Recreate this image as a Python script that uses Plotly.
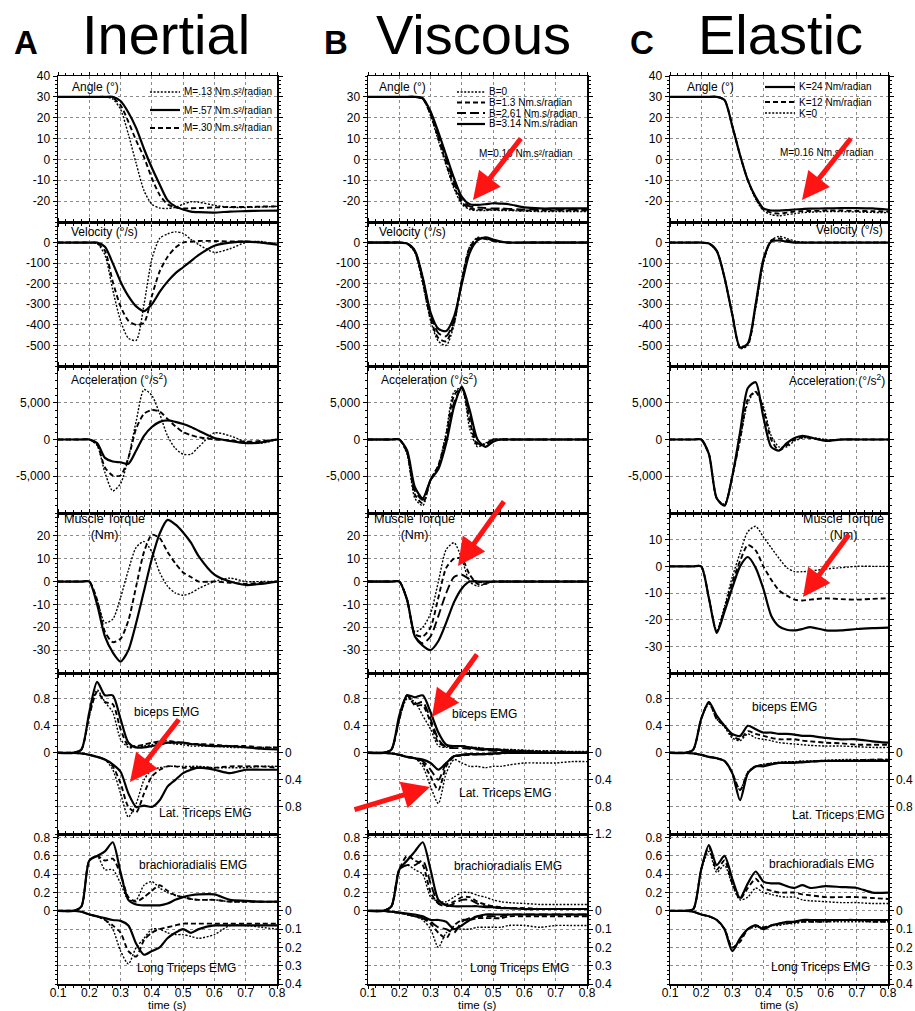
import plotly.graph_objects as go

W, H = 915, 1011
FONT = "Liberation Sans, Arial, Helvetica, sans-serif"

# common time grid (s)
T = [0.10, 0.15, 0.175, 0.20, 0.225, 0.25, 0.275, 0.30, 0.325, 0.35, 0.375, 0.40,
     0.425, 0.45, 0.475, 0.50, 0.525, 0.55, 0.60, 0.65, 0.70, 0.75, 0.80]

# ---------------- A : Inertial ----------------
a_angle_m13 = [30, 30, 30, 30, 30, 30, 29, 24, 12, -2, -15, -21.5, -23.3, -23.5, -23, -21.5, -20.3, -20.5, -22, -23, -23, -22.8, -22.5]
a_angle_m57 = [30, 30, 30, 30, 30, 30, 30, 28, 22.5, 15, 5, -4, -12, -19.5, -22.5, -24, -25, -25.3, -25.5, -25, -24.8, -24.6, -24.5]
a_angle_m30 = [30, 30, 30, 30, 30, 30, 29.5, 26, 18, 9, 1, -9, -17, -21.5, -23, -23.5, -23.4, -23.3, -23, -22.8, -22.8, -22.6, -22.5]

a_vel_m13 = [0, 0, 0, 0, -5, -60, -230, -380, -465, -475, -300, -80, 20, 42, 52, 45, 15, -10, -48, -30, 0, 5, -10]
a_vel_m57 = [0, 0, 0, 0, 0, -20, -100, -190, -260, -310, -333, -300, -240, -190, -150, -120, -90, -60, -15, 0, 5, 0, -10]
a_vel_m30 = [0, 0, 0, 0, -3, -40, -190, -310, -380, -400, -390, -260, -140, -70, -25, 0, 5, 8, 8, 5, 5, 0, -5]

a_acc_m13 = [0, 0, 0, 0, -800, -4500, -7000, -6000, -2500, 2500, 6800, 6000, 3500, 500, -1200, -2000, -2000, -1000, 900, 500, -300, -500, 0]
a_acc_m57 = [0, 0, 0, 0, -500, -2500, -3000, -3100, -3300, -1500, 500, 1700, 2400, 2600, 2400, 2100, 1700, 1200, 200, -200, -500, -400, 0]
a_acc_m30 = [0, 0, 0, 0, -700, -3800, -4900, -4900, -2500, 1500, 3500, 4000, 3800, 2800, 1800, 1000, 600, 300, 0, -100, -300, -200, 0]

a_trq_m13 = [0, 0, 0, 0, -8, -18, -16.5, -7, 5, 15, 17.5, 13, 4, -2, -5, -6, -5, -3, 0, 1.5, 0, 0, 0]
a_trq_m57 = [0, 0, 0, 0, -10, -24, -31, -35, -30, -18, -4, 10, 21, 27, 25, 21.5, 17, 11, 3, 0, -1.5, -1, 0]
a_trq_m30 = [0, 0, 0, 0, -8, -22, -26.5, -25, -17, -2, 13, 20.5, 19, 13, 8, 4, 2, 0, 0, -0.5, -1, -0.5, 0]

a_bic_m13 = [0, 0, 0.05, 0.55, 0.93, 0.75, 0.6, 0.2, 0.08, 0.08, 0.1, 0.12, 0.15, 0.15, 0.13, 0.12, 0.1, 0.1, 0.1, 0.08, 0.08, 0.08, 0.08]
a_bic_m57 = [0, 0, 0.05, 0.6, 1.05, 0.85, 0.85, 0.5, 0.15, 0.08, 0.08, 0.1, 0.12, 0.15, 0.15, 0.15, 0.13, 0.12, 0.1, 0.1, 0.08, 0.06, 0.05]
a_bic_m30 = [0, 0, 0.05, 0.55, 0.9, 0.75, 0.72, 0.35, 0.1, 0.1, 0.12, 0.15, 0.17, 0.18, 0.16, 0.15, 0.13, 0.13, 0.12, 0.1, 0.1, 0.08, 0.08]

a_lat_m13 = [0, 0, 0.01, 0.03, 0.06, 0.1, 0.25, 0.6, 0.95, 0.75, 0.4, 0.25, 0.22, 0.2, 0.2, 0.2, 0.2, 0.2, 0.22, 0.22, 0.22, 0.2, 0.2]
a_lat_m57 = [0, 0, 0.01, 0.03, 0.06, 0.1, 0.17, 0.28, 0.6, 0.8, 0.78, 0.8, 0.7, 0.5, 0.4, 0.3, 0.25, 0.22, 0.25, 0.3, 0.25, 0.25, 0.25]
a_lat_m30 = [0, 0, 0.01, 0.03, 0.06, 0.1, 0.2, 0.45, 0.8, 0.88, 0.6, 0.35, 0.25, 0.2, 0.2, 0.22, 0.22, 0.22, 0.22, 0.2, 0.2, 0.2, 0.22]

a_bra_m13 = [0, 0, 0.05, 0.55, 0.6, 0.45, 0.45, 0.3, 0.12, 0.12, 0.28, 0.32, 0.25, 0.2, 0.17, 0.15, 0.13, 0.12, 0.12, 0.1, 0.1, 0.1, 0.1]
a_bra_m57 = [0, 0, 0.05, 0.55, 0.6, 0.65, 0.75, 0.42, 0.12, 0.07, 0.06, 0.06, 0.06, 0.08, 0.12, 0.15, 0.17, 0.18, 0.18, 0.12, 0.11, 0.1, 0.1]
a_bra_m30 = [0, 0, 0.05, 0.55, 0.6, 0.55, 0.57, 0.4, 0.15, 0.1, 0.15, 0.22, 0.28, 0.22, 0.17, 0.15, 0.13, 0.12, 0.12, 0.1, 0.1, 0.1, 0.1]

a_ltr_m13 = [0, 0, 0.005, 0.02, 0.03, 0.05, 0.1, 0.22, 0.29, 0.2, 0.15, 0.1, 0.1, 0.12, 0.13, 0.13, 0.14, 0.15, 0.13, 0.08, 0.08, 0.09, 0.1]
a_ltr_m57 = [0, 0, 0.005, 0.02, 0.03, 0.04, 0.05, 0.055, 0.08, 0.18, 0.24, 0.22, 0.2, 0.15, 0.12, 0.1, 0.12, 0.1, 0.08, 0.08, 0.08, 0.08, 0.08]
a_ltr_m30 = [0, 0, 0.005, 0.02, 0.03, 0.05, 0.08, 0.12, 0.22, 0.25, 0.16, 0.12, 0.1, 0.09, 0.08, 0.07, 0.07, 0.07, 0.07, 0.07, 0.07, 0.07, 0.07]

# ---------------- B : Viscous ----------------
b_angle_b0 = [30, 30, 30, 30, 30, 30, 29, 21, 9, -3, -14, -21.5, -24, -24.5, -24.5, -24.3, -24.5, -24.5, -24.8, -25, -25, -25, -25]
b_angle_b13 = [30, 30, 30, 30, 30, 30, 29, 21.5, 10, -2, -13, -20.5, -23.5, -24, -24, -24, -24, -24.2, -24.5, -24.5, -24.5, -24.5, -24.5]
b_angle_b261 = [30, 30, 30, 30, 30, 30, 29.2, 22.5, 11.5, 0, -11, -19.5, -22.5, -23, -23.3, -23.5, -23.5, -23.7, -24, -24, -24, -24, -24]
b_angle_b314 = [30, 30, 30, 30, 30, 30, 29.4, 23, 13, 2, -9, -18, -21.5, -21.8, -21.5, -21, -21.2, -21.5, -23, -23.5, -23.5, -23.5, -23.5]

b_vel_b0 = [0, 0, 0, 0, -5, -50, -200, -380, -480, -500, -400, -180, -20, 25, 20, 8, 2, 0, 0, 0, 0, 0, 0]
b_vel_b13 = [0, 0, 0, 0, -5, -45, -190, -370, -465, -480, -390, -180, -25, 20, 18, 8, 2, 0, 0, 0, 0, 0, 0]
b_vel_b261 = [0, 0, 0, 0, -5, -40, -175, -350, -440, -455, -380, -190, -40, 15, 20, 10, 3, 0, 0, 0, 0, 0, 0]
b_vel_b314 = [0, 0, 0, 0, -5, -40, -170, -340, -420, -430, -360, -200, -50, 10, 25, 15, 5, 0, 0, 0, 0, 0, 0]

b_acc_b0 = [0, 0, 0, 0, -2000, -8000, -9000, -5500, -3500, 1000, 6500, 7000, 1500, -1000, -500, 0, 0, 0, 0, 0, 0, 0, 0]
b_acc_b13 = [0, 0, 0, 0, -1800, -7500, -8700, -5500, -3500, 500, 6000, 7000, 2500, -800, -600, 0, 0, 0, 0, 0, 0, 0, 0]
b_acc_b261 = [0, 0, 0, 0, -1700, -7000, -8200, -5500, -3800, 0, 5000, 7000, 3500, -500, -800, 0, 0, 0, 0, 0, 0, 0, 0]
b_acc_b314 = [0, 0, 0, 0, -1500, -6500, -8000, -5500, -4000, -500, 4500, 7200, 4000, 0, -1000, -300, 0, 0, 0, 0, 0, 0, 0]

b_trq_b0 = [0, 0, 0, 0, -8, -22, -20, -14, 0, 14, 17, 10, 0, -2, -1, 0, 0, 0, 0, 0, 0, 0, 0]
b_trq_b13 = [0, 0, 0, 0, -8, -23, -24, -20, -7, 6, 10, 10, 3, -1, -1, 0, 0, 0, 0, 0, 0, 0, 0]
b_trq_b261 = [0, 0, 0, 0, -8, -24, -27, -24, -15, -5, 2, 3, 1, 0, -0.5, 0, 0, 0, 0, 0, 0, 0, 0]
b_trq_b314 = [0, 0, 0, 0, -8, -24, -28, -30, -26, -18, -9, -3, 0, 0, 0, 0, 0, 0, 0, 0, 0, 0, 0]

b_bic_b0 = [0, 0, 0.05, 0.5, 0.8, 0.75, 0.55, 0.35, 0.1, 0.08, 0.1, 0.1, 0.08, 0.08, 0.06, 0.06, 0.05, 0.05, 0.04, 0.03, 0.03, 0.02, 0.02]
b_bic_b13 = [0, 0, 0.05, 0.5, 0.85, 0.7, 0.7, 0.45, 0.15, 0.1, 0.1, 0.1, 0.08, 0.07, 0.06, 0.05, 0.05, 0.04, 0.03, 0.02, 0.02, 0.01, 0]
b_bic_b261 = [0, 0, 0.05, 0.5, 0.85, 0.72, 0.75, 0.5, 0.2, 0.08, 0.07, 0.07, 0.06, 0.05, 0.04, 0.03, 0.03, 0.02, 0.01, 0, 0, 0, 0]
b_bic_b314 = [0, 0, 0.05, 0.55, 0.85, 0.82, 0.85, 0.6, 0.3, 0.12, 0.1, 0.1, 0.08, 0.06, 0.05, 0.05, 0.04, 0.03, 0.02, 0.01, 0, 0, 0]

b_lat_b0 = [0, 0, 0.01, 0.03, 0.06, 0.08, 0.2, 0.5, 0.75, 0.3, 0.1, 0.15, 0.2, 0.2, 0.22, 0.2, 0.2, 0.18, 0.15, 0.15, 0.15, 0.13, 0.13]
b_lat_b13 = [0, 0, 0.01, 0.03, 0.06, 0.08, 0.15, 0.35, 0.55, 0.2, 0.06, 0.04, 0.03, 0.02, 0.02, 0.02, 0.01, 0, 0, 0, 0, 0, 0]
b_lat_b261 = [0, 0, 0.01, 0.03, 0.06, 0.08, 0.12, 0.25, 0.4, 0.15, 0.05, 0.03, 0.02, 0.02, 0.02, 0.01, 0, 0, 0, 0, 0, 0, 0]
b_lat_b314 = [0, 0, 0.01, 0.03, 0.06, 0.08, 0.1, 0.15, 0.25, 0.15, 0.05, 0.03, 0.02, 0.02, 0.02, 0.01, 0, 0, 0, 0, 0, 0, 0]

b_bra_b0 = [0, 0, 0.05, 0.45, 0.5, 0.45, 0.4, 0.15, 0.1, 0.1, 0.15, 0.2, 0.2, 0.17, 0.15, 0.12, 0.1, 0.09, 0.08, 0.07, 0.07, 0.07, 0.07]
b_bra_b13 = [0, 0, 0.05, 0.45, 0.6, 0.55, 0.5, 0.2, 0.08, 0.07, 0.1, 0.15, 0.15, 0.1, 0.07, 0.05, 0.04, 0.03, 0.03, 0.02, 0.02, 0.02, 0.02]
b_bra_b261 = [0, 0, 0.05, 0.45, 0.5, 0.5, 0.55, 0.3, 0.08, 0.05, 0.08, 0.12, 0.12, 0.08, 0.05, 0.04, 0.03, 0.03, 0.02, 0.02, 0.02, 0.02, 0.02]
b_bra_b314 = [0, 0, 0.05, 0.45, 0.55, 0.65, 0.75, 0.45, 0.12, 0.06, 0.05, 0.05, 0.05, 0.05, 0.04, 0.04, 0.03, 0.03, 0.02, 0.02, 0.02, 0.02, 0.02]

b_ltr_b0 = [0, 0, 0.005, 0.01, 0.02, 0.03, 0.05, 0.1, 0.2, 0.12, 0.1, 0.1, 0.1, 0.09, 0.09, 0.09, 0.09, 0.08, 0.08, 0.09, 0.08, 0.08, 0.08]
b_ltr_b13 = [0, 0, 0.005, 0.01, 0.02, 0.03, 0.04, 0.07, 0.12, 0.15, 0.08, 0.05, 0.05, 0.04, 0.04, 0.04, 0.04, 0.03, 0.03, 0.03, 0.03, 0.03, 0.03]
b_ltr_b261 = [0, 0, 0.005, 0.01, 0.02, 0.03, 0.04, 0.06, 0.09, 0.1, 0.12, 0.06, 0.04, 0.03, 0.03, 0.03, 0.03, 0.02, 0.02, 0.02, 0.02, 0.02, 0.02]
b_ltr_b314 = [0, 0, 0.005, 0.01, 0.015, 0.02, 0.03, 0.05, 0.05, 0.06, 0.1, 0.08, 0.05, 0.03, 0.02, 0.02, 0.02, 0.02, 0.02, 0.02, 0.02, 0.02, 0.02]

# ---------------- C : Elastic ----------------
c_angle_k24 = [30, 30, 30, 30, 30, 30, 28.5, 16, 2, -10, -18, -23.5, -24.5, -24.5, -24.3, -24, -23.8, -23.6, -23.5, -23.3, -23.3, -23.5, -24]
c_angle_k12 = [30, 30, 30, 30, 30, 30, 28.5, 16, 2, -10, -18.5, -24, -25.5, -26, -25.5, -25, -24.8, -24.7, -24.5, -24.5, -24.7, -24.8, -25]
c_angle_k0 = [30, 30, 30, 30, 30, 30, 28.5, 16, 2, -10, -19, -24.5, -26.5, -27, -26.5, -26, -25.5, -25.3, -25, -25, -25.2, -25.4, -25.5]

c_vel_k24 = [0, 0, 0, 0, -5, -40, -170, -350, -510, -490, -300, -80, 5, 10, 5, 0, 0, 0, 0, 0, 0, 0, 0]
c_vel_k12 = [0, 0, 0, 0, -5, -40, -170, -350, -510, -495, -310, -90, 10, 20, 12, 3, 0, 0, 0, 0, 0, 0, 0]
c_vel_k0 = [0, 0, 0, 0, -5, -40, -170, -350, -515, -500, -320, -100, 10, 30, 20, 8, 2, 0, 0, 0, 0, 0, 0]

c_acc_k24 = [0, 0, 0, 0, -2000, -8000, -9000, -5000, 1000, 7000, 7800, 3000, -1000, -1500, -500, 200, 500, 300, -200, 0, 0, 0, 0]
c_acc_k12 = [0, 0, 0, 0, -2000, -8000, -9000, -5000, 0, 5500, 6500, 4000, 0, -1500, -800, 0, 300, 200, -100, 0, 0, 0, 0]
c_acc_k0 = [0, 0, 0, 0, -2000, -8000, -8800, -5000, 0, 5000, 6500, 4500, 500, -1000, -1000, -200, 200, 300, 0, 0, 0, 0, 0]

c_trq_k24 = [0, 0, 0, 0, -12, -25, -17, -8, 0, 3.5, -0.5, -8.5, -18.5, -22.5, -23.8, -24, -23.5, -22.8, -24, -24, -23.5, -23.2, -23]
c_trq_k12 = [0, 0, 0, 0, -12, -24.5, -16, -6, 2, 8, 6, 0, -5, -9, -11, -12.5, -12.8, -12.5, -12, -12.3, -12.5, -12.2, -12]
c_trq_k0 = [0, 0, 0, 0, -12, -24, -15, -4, 5, 13, 15, 11, 7, 3, -0.5, -2, -2, -1.8, -1, -0.5, 0, 0, 0]

c_bic_k24 = [0, 0, 0.05, 0.5, 0.75, 0.55, 0.4, 0.28, 0.25, 0.4, 0.35, 0.3, 0.3, 0.28, 0.28, 0.27, 0.25, 0.25, 0.22, 0.2, 0.2, 0.17, 0.15]
c_bic_k12 = [0, 0, 0.05, 0.5, 0.75, 0.5, 0.4, 0.25, 0.2, 0.32, 0.28, 0.25, 0.22, 0.2, 0.2, 0.2, 0.18, 0.17, 0.15, 0.14, 0.12, 0.12, 0.12]
c_bic_k0 = [0, 0, 0.05, 0.5, 0.72, 0.5, 0.38, 0.22, 0.18, 0.28, 0.22, 0.2, 0.18, 0.15, 0.14, 0.13, 0.12, 0.11, 0.1, 0.1, 0.09, 0.08, 0.08]

c_lat_k24 = [0, 0, 0.01, 0.03, 0.06, 0.08, 0.12, 0.3, 0.7, 0.3, 0.2, 0.2, 0.17, 0.15, 0.15, 0.15, 0.14, 0.13, 0.12, 0.12, 0.12, 0.12, 0.12]
c_lat_k12 = [0, 0, 0.01, 0.03, 0.06, 0.08, 0.12, 0.3, 0.55, 0.3, 0.2, 0.18, 0.16, 0.15, 0.14, 0.14, 0.13, 0.13, 0.12, 0.12, 0.11, 0.1, 0.1]
c_lat_k0 = [0, 0, 0.01, 0.03, 0.06, 0.08, 0.12, 0.3, 0.55, 0.28, 0.2, 0.17, 0.15, 0.14, 0.13, 0.13, 0.12, 0.12, 0.11, 0.1, 0.1, 0.1, 0.1]

c_bra_k24 = [0, 0, 0.02, 0.45, 0.72, 0.5, 0.6, 0.35, 0.14, 0.3, 0.43, 0.32, 0.3, 0.3, 0.27, 0.25, 0.28, 0.25, 0.27, 0.26, 0.25, 0.2, 0.2]
c_bra_k12 = [0, 0, 0.02, 0.45, 0.7, 0.45, 0.55, 0.3, 0.13, 0.25, 0.35, 0.25, 0.22, 0.2, 0.2, 0.2, 0.18, 0.17, 0.15, 0.15, 0.15, 0.14, 0.13]
c_bra_k0 = [0, 0, 0.02, 0.45, 0.65, 0.42, 0.5, 0.28, 0.12, 0.15, 0.25, 0.2, 0.18, 0.16, 0.15, 0.15, 0.12, 0.11, 0.1, 0.09, 0.09, 0.08, 0.08]

c_ltr_k24 = [0, 0, 0.005, 0.02, 0.03, 0.05, 0.1, 0.22, 0.15, 0.1, 0.08, 0.1, 0.08, 0.07, 0.06, 0.06, 0.05, 0.05, 0.05, 0.05, 0.05, 0.05, 0.05]
c_ltr_k12 = [0, 0, 0.005, 0.02, 0.03, 0.05, 0.1, 0.2, 0.17, 0.1, 0.08, 0.09, 0.08, 0.07, 0.07, 0.06, 0.06, 0.06, 0.06, 0.05, 0.05, 0.06, 0.06]
c_ltr_k0 = [0, 0, 0.005, 0.02, 0.03, 0.05, 0.1, 0.2, 0.16, 0.1, 0.09, 0.09, 0.08, 0.08, 0.07, 0.07, 0.06, 0.06, 0.06, 0.06, 0.06, 0.06, 0.06]

# ---------------- tick labels ----------------
X_TICKS = [0.1, 0.2, 0.3, 0.4, 0.5, 0.6, 0.7, 0.8]
ANGLE_TICKS = [-20, -10, 0, 10, 20, 30, 40]
ANGLE_TICKS_B = [-20, -10, 0, 10, 20, 30]
VEL_TICKS = [-500, -400, -300, -200, -100, 0]
ACC_TICKS = [-5000, 0, 5000]
ACC_LABELS = ["-5,000", "0", "5,000"]
TRQ_TICKS = [-30, -20, -10, 0, 10, 20]
TRQ_TICKS_C = [-30, -20, -10, 0, 10]
EMG1_TICKS = [0, 0.4, 0.8]
EMG1_RIGHT_TICKS = [0, 0.4, 0.8]
EMG1_RIGHT_TICKS_B = [0, 0.4, 0.8, 1.2]
EMG2_TICKS = [0, 0.2, 0.4, 0.6, 0.8]
EMG2_RIGHT_TICKS = [0, 0.1, 0.2, 0.3, 0.4]

# ---------------- layout geometry (pixels) ----------------
COL_X = [(58, 277), (368, 587), (670, 888)]
ROW_Y = [(76, 222), (222, 366), (366, 513), (513, 673), (673, 834), (834, 984)]

STY = {
    'solid': dict(dash='solid', width=2.2),
    'dot': dict(dash='2px,1.6px', width=1.4),
    'dash': dict(dash='5px,3px', width=1.9),
    'long': dict(dash='9px,4px', width=1.9),
}


def fx(x):
    return x / W


def fy(y):
    return 1 - y / H


def lbl(v):
    return '%g' % v


COLUMNS = [
    {
        'rows': [
            [('dot', a_angle_m13), ('solid', a_angle_m57), ('dash', a_angle_m30)],
            [('dot', a_vel_m13), ('solid', a_vel_m57), ('dash', a_vel_m30)],
            [('dot', a_acc_m13), ('solid', a_acc_m57), ('dash', a_acc_m30)],
            [('dot', a_trq_m13), ('solid', a_trq_m57), ('dash', a_trq_m30)],
        ],
        'emg1': ([('dot', a_bic_m13), ('dash', a_bic_m30), ('solid', a_bic_m57)],
                 [('dot', a_lat_m13), ('dash', a_lat_m30), ('solid', a_lat_m57)]),
        'emg2': ([('dot', a_bra_m13), ('dash', a_bra_m30), ('solid', a_bra_m57)],
                 [('dot', a_ltr_m13), ('dash', a_ltr_m30), ('solid', a_ltr_m57)]),
        'angle_ticks': ANGLE_TICKS, 'trq_ticks': TRQ_TICKS, 'trq_range': [-40, 30],
        'emg1_right': EMG1_RIGHT_TICKS,
    },
    {
        'rows': [
            [('dot', b_angle_b0), ('dash', b_angle_b13), ('long', b_angle_b261), ('solid', b_angle_b314)],
            [('dot', b_vel_b0), ('dash', b_vel_b13), ('long', b_vel_b261), ('solid', b_vel_b314)],
            [('dot', b_acc_b0), ('dash', b_acc_b13), ('long', b_acc_b261), ('solid', b_acc_b314)],
            [('dot', b_trq_b0), ('dash', b_trq_b13), ('long', b_trq_b261), ('solid', b_trq_b314)],
        ],
        'emg1': ([('dot', b_bic_b0), ('dash', b_bic_b13), ('long', b_bic_b261), ('solid', b_bic_b314)],
                 [('dot', b_lat_b0), ('dash', b_lat_b13), ('long', b_lat_b261), ('solid', b_lat_b314)]),
        'emg2': ([('dot', b_bra_b0), ('dash', b_bra_b13), ('long', b_bra_b261), ('solid', b_bra_b314)],
                 [('dot', b_ltr_b0), ('dash', b_ltr_b13), ('long', b_ltr_b261), ('solid', b_ltr_b314)]),
        'angle_ticks': ANGLE_TICKS_B, 'trq_ticks': TRQ_TICKS, 'trq_range': [-40, 30],
        'emg1_right': EMG1_RIGHT_TICKS_B,
    },
    {
        'rows': [
            [('dot', c_angle_k0), ('dash', c_angle_k12), ('solid', c_angle_k24)],
            [('dot', c_vel_k0), ('dash', c_vel_k12), ('solid', c_vel_k24)],
            [('dot', c_acc_k0), ('dash', c_acc_k12), ('solid', c_acc_k24)],
            [('dot', c_trq_k0), ('dash', c_trq_k12), ('solid', c_trq_k24)],
        ],
        'emg1': ([('dot', c_bic_k0), ('dash', c_bic_k12), ('solid', c_bic_k24)],
                 [('dot', c_lat_k0), ('dash', c_lat_k12), ('solid', c_lat_k24)]),
        'emg2': ([('dot', c_bra_k0), ('dash', c_bra_k12), ('solid', c_bra_k24)],
                 [('dot', c_ltr_k0), ('dash', c_ltr_k12), ('solid', c_ltr_k24)]),
        'angle_ticks': ANGLE_TICKS, 'trq_ticks': TRQ_TICKS_C, 'trq_range': [-40, 20],
        'emg1_right': EMG1_RIGHT_TICKS,
    },
]

TICKFONT = dict(family=FONT, size=12, color='black')
GRID = dict(showgrid=True, gridcolor='#8c8c8c', griddash='dot', gridwidth=1)


def y_axis(rng, tickvals, ticktext=None, minor_dtick=None, mirror='ticks', **kw):
    d = dict(range=rng, tickmode='array', tickvals=tickvals,
             ticktext=ticktext if ticktext else [lbl(v) for v in tickvals],
             showline=True, linecolor='black', linewidth=1.5, mirror=mirror,
             ticks='outside', ticklen=4, tickwidth=1, tickcolor='black',
             zeroline=False, tickfont=TICKFONT, fixedrange=True, automargin=False, **GRID)
    if minor_dtick:
        d['minor'] = dict(tickmode='linear', tick0=0, dtick=minor_dtick, ticks='outside',
                          ticklen=2, tickcolor='black', showgrid=False)
    d.update(kw)
    return d


fig = go.Figure()
layout = {}
n = 0
nright = 18


def add_traces(series, xid, yid):
    for style, vals in series:
        fig.add_trace(go.Scatter(
            x=T, y=vals, xaxis=xid, yaxis=yid, mode='lines',
            line=dict(color='black', shape='spline', smoothing=0.7, **STY[style]),
            showlegend=False, hoverinfo='skip'))


for c, col in enumerate(COLUMNS):
    x0, x1 = COL_X[c]
    for r, (ya0, ya1) in enumerate(ROW_Y):
        n += 1
        sfx = '' if n == 1 else str(n)
        xid, yid = 'x' + sfx, 'y' + sfx
        layout['xaxis' + sfx] = dict(
            domain=[fx(x0), fx(x1)], anchor=yid, range=[0.1, 0.8],
            tickmode='array', tickvals=X_TICKS, ticktext=[lbl(v) for v in X_TICKS],
            showticklabels=(r == 5), showline=True, linecolor='black', linewidth=1.5,
            mirror='ticks', ticks='outside', ticklen=3, tickcolor='black', ticklabelstandoff=-6,
            minor=dict(tickmode='linear', tick0=0.1, dtick=0.025, ticks='outside', ticklen=2,
                       tickcolor='black', showgrid=False),
            zeroline=False, tickfont=TICKFONT, fixedrange=True, automargin=False, **GRID)
        dom = [fy(ya1), fy(ya0)]
        if r == 0:
            layout['yaxis' + sfx] = y_axis([-30, 40], col['angle_ticks'], minor_dtick=2, domain=dom, anchor=xid)
            add_traces(col['rows'][0], xid, yid)
        elif r == 1:
            layout['yaxis' + sfx] = y_axis([-600, 100], VEL_TICKS, minor_dtick=20, domain=dom, anchor=xid)
            add_traces(col['rows'][1], xid, yid)
        elif r == 2:
            layout['yaxis' + sfx] = y_axis([-10000, 10000], ACC_TICKS, ACC_LABELS, minor_dtick=1000, domain=dom, anchor=xid)
            add_traces(col['rows'][2], xid, yid)
        elif r == 3:
            layout['yaxis' + sfx] = y_axis(col['trq_range'], col['trq_ticks'], minor_dtick=2, domain=dom, anchor=xid)
            add_traces(col['rows'][3], xid, yid)
        else:
            if r == 4:
                lrng, ltk, rrng, rtk, md = [-1.2, 1.18], EMG1_TICKS, [1.2, -1.18], col['emg1_right'], 0.1
                top, bot = col['emg1']
            else:
                lrng, ltk, rrng, rtk, md = [-0.8, 0.84], EMG2_TICKS, [0.4, -0.42], EMG2_RIGHT_TICKS, 0.05
                top, bot = col['emg2']
            layout['yaxis' + sfx] = y_axis(lrng, ltk, minor_dtick=md, mirror=True, domain=dom, anchor=xid)
            nright += 1
            rs = str(nright)
            layout['yaxis' + rs] = y_axis(rrng, rtk, minor_dtick=md / 2 if r == 5 else md,
                                         mirror=False, overlaying=yid, side='right', anchor=xid)
            add_traces(top, xid, yid)
            add_traces(bot, xid, 'y' + rs)

annotations = []


def text(t, x, y, size=12, xanchor='left', bold=False, align='left'):
    annotations.append(dict(
        text=('<b>%s</b>' % t) if bold else t, x=fx(x), y=fy(y), xref='paper', yref='paper',
        xanchor=xanchor, yanchor='middle', showarrow=False, align=align,
        font=dict(family=FONT, size=size, color='black')))


# column titles
for letter, lx, title, tx in [('A', 12, 'Inertial', 80), ('B', 322, 'Viscous', 374), ('C', 628, 'Elastic', 696)]:
    text(letter, lx, 43, size=33, bold=True)
    text(title, tx, 34, size=56)

# panel labels
PANEL_LABELS = [
    # column A
    ('Angle (°)', 70, 87, 'left'), ('Velocity (°/s)', 69, 232, 'left'),
    ('Acceleration (°/s<sup>2</sup>)', 69, 379, 'left'),
    ('biceps EMG', 132, 712, 'left'), ('Lat. Triceps EMG', 157, 813, 'left'),
    ('brachioradialis EMG', 137, 865, 'left'), ('Long Triceps EMG', 135, 968, 'left'),
    # column B
    ('Angle (°)', 377, 87, 'left'), ('Velocity (°/s)', 377, 232, 'left'),
    ('Acceleration (°/s<sup>2</sup>)', 379, 379, 'left'),
    ('biceps EMG', 450, 714, 'left'), ('Lat. Triceps EMG', 457, 793, 'left'),
    ('brachioradialis EMG', 452, 866, 'left'), ('Long Triceps EMG', 468, 968, 'left'),
    # column C
    ('Angle (°)', 685, 87, 'left'), ('Velocity (°/s)', 885, 230, 'right'),
    ('Acceleration (°/s<sup>2</sup>)', 887, 380, 'right'),
    ('biceps EMG', 750, 707, 'left'), ('Lat. Triceps EMG', 790, 815, 'left'),
    ('brachioradials EMG', 767, 864, 'left'), ('Long Triceps EMG', 769, 967, 'left'),
]
for t, x, y, anc in PANEL_LABELS:
    text(t, x, y, size=12, xanchor=anc)

for cx in (104, 414, 843):
    text('Muscle Torque<br>(Nm)', cx, 527, size=12.5, xanchor='center', align='center')

for c in range(3):
    text('time (s)', (COL_X[c][0] + COL_X[c][1]) / 2, 1004.5, size=11.5, xanchor='center')

# legends (key lines + text)
shapes = []
LEGENDS = [
    (150, 180, 182, [('dot', 'M=.13 Nm.s²/radian', 92), ('solid', 'M=.57 Nm.s²/radian', 110),
                     ('dash', 'M=.30 Nm.s²/radian', 128)], 10),
    (457, 485, 487, [('dot', 'B=0', 92), ('dash', 'B=1.3 Nm.s/radian', 102.5),
                     ('long', 'B=2.61 Nm.s/radian', 113), ('solid', 'B=3.14 Nm.s/radian', 124)], 10),
    (765, 795, 797, [('solid', 'K=24 Nm/radian', 87), ('dash', 'K=12 Nm/radian', 102), ('dot', 'K=0', 113)], 10),
]
for kx0, kx1, tx, items, fs in LEGENDS:
    for style, label, y in items:
        shapes.append(dict(type='line', xref='paper', yref='paper', x0=fx(kx0), x1=fx(kx1),
                           y0=fy(y), y1=fy(y), line=dict(color='black', **STY[style])))
        text(label, tx, y, size=fs)
text('M=0.16 Nm.s²/radian', 477, 153, size=10)
text('M=0.16 Nm.s²/radian', 778, 152, size=10)

# red arrows: (head_x, head_y, tail_x, tail_y)
ARROWS = [(130, 782, 180, 718), (473, 200, 522, 137), (458, 566, 505, 500),
          (432, 717, 478, 653), (430, 787, 353, 810), (802, 200, 852, 137), (803, 597, 850, 533)]
for hx, hy, tx, ty in ARROWS:
    annotations.append(dict(
        text='', x=fx(hx), y=fy(hy), xref='paper', yref='paper', showarrow=True,
        ax=tx - hx, ay=ty - hy, axref='pixel', ayref='pixel',
        arrowhead=2, arrowsize=1.1, arrowwidth=5, arrowcolor='#ff1414', standoff=0))

fig.update_layout(
    width=W, height=H, margin=dict(l=0, r=0, t=0, b=0),
    paper_bgcolor='white', plot_bgcolor='white', template='none',
    showlegend=False, annotations=annotations, shapes=shapes,
    font=dict(family=FONT, color='black'), **layout)

fig.write_html("out.html", config={'displayModeBar': False, 'staticPlot': True},
               post_script="document.body.style.margin='0';document.body.style.overflow='hidden';")
